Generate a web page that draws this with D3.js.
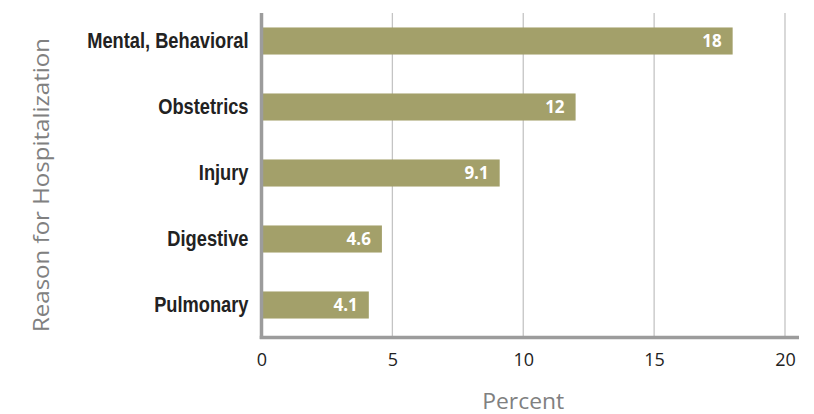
<!DOCTYPE html>
<html>
<head>
<meta charset="utf-8">
<script src="https://cdn.jsdelivr.net/npm/d3@7/dist/d3.min.js"></script>
<style>
  html, body { margin: 0; padding: 0; background: #fff; }
  svg { display: block; }
</style>
</head>
<body>
<svg id="chart" width="814" height="414"></svg>
<script>
// Share of hospitalizations by reason
const categories = ["Mental, Behavioral", "Obstetrics", "Injury", "Digestive", "Pulmonary"];
const values = [18, 12, 9.1, 4.6, 4.1];
const xTicks = [0, 5, 10, 15, 20];

const svg = d3.select("#chart");
const left = 261.5, right = 785;

const x = d3.scaleLinear().domain([0, 20]).range([left, right]);
const y = d3.scaleBand().domain(categories).range([8, 338])
  .paddingInner(0.59).paddingOuter(0.295);

// vertical grid lines
svg.append("g").selectAll("line")
  .data(xTicks.filter(d => d > 0))
  .join("line")
  .attr("x1", d => x(d)).attr("x2", d => x(d))
  .attr("y1", 13).attr("y2", 337)
  .attr("stroke", "#c4c4c4").attr("stroke-width", 1.3);

// bars
svg.append("g").selectAll("rect")
  .data(values)
  .join("rect")
  .attr("x", x(0))
  .attr("y", (d, i) => y(categories[i]))
  .attr("width", d => x(d) - x(0))
  .attr("height", y.bandwidth())
  .attr("fill", "#a3a06a");

// value labels inside bars
svg.append("g").selectAll("text")
  .data(values)
  .join("text")
  .attr("x", d => x(d) - 11)
  .attr("y", (d, i) => y(categories[i]) + y.bandwidth() / 2)
  .attr("dy", "0.36em")
  .attr("text-anchor", "end")
  .attr("fill", "#fff")
  .attr("font-family", "'Open Sans', 'Noto Sans', sans-serif")
  .attr("font-weight", "bold")
  .attr("font-size", 17)
  .text(d => d);

// axes lines
svg.append("line")
  .attr("x1", left).attr("x2", left).attr("y1", 13).attr("y2", 339)
  .attr("stroke", "#9c9c9c").attr("stroke-width", 3.5);
svg.append("line")
  .attr("x1", left - 1.75).attr("x2", 799).attr("y1", 337.5).attr("y2", 337.5)
  .attr("stroke", "#9c9c9c").attr("stroke-width", 3.5);

// x tick labels
const xAxis = d3.axisBottom(x).tickValues(xTicks).tickSize(0).tickPadding(14);
const gx = svg.append("g").attr("transform", "translate(0,339)").call(xAxis);
gx.select(".domain").remove();
gx.selectAll("text")
  .attr("fill", "#222")
  .attr("font-family", "'Open Sans', 'Noto Sans', sans-serif")
  .attr("font-size", 18);

// category labels, narrowed to a condensed look
const squeeze = 0.83;
const yAxis = d3.axisLeft(y).tickSize(0).tickPadding(13);
const gy = svg.append("g").attr("transform", `translate(${left},0)`).call(yAxis);
gy.select(".domain").remove();
gy.selectAll("text")
  .attr("x", -13 / squeeze)
  .attr("transform", `scale(${squeeze},1)`)
  .attr("fill", "#222")
  .attr("font-family", "'Liberation Sans', Arial, sans-serif")
  .attr("font-weight", "bold")
  .attr("font-size", 22);

// axis titles
svg.append("text")
  .attr("x", (left + right) / 2).attr("y", 409)
  .attr("text-anchor", "middle")
  .attr("fill", "#808080")
  .attr("font-family", "'Open Sans', 'Noto Sans', sans-serif")
  .attr("font-size", 21)
  .attr("textLength", 82)
  .attr("lengthAdjust", "spacingAndGlyphs")
  .text("Percent");

svg.append("text")
  .attr("transform", "translate(49,185) rotate(-90)")
  .attr("text-anchor", "middle")
  .attr("fill", "#808080")
  .attr("font-family", "'Open Sans', 'Noto Sans', sans-serif")
  .attr("font-size", 22)
  .attr("textLength", 294)
  .attr("lengthAdjust", "spacingAndGlyphs")
  .text("Reason for Hospitalization");
</script>
</body>
</html>
